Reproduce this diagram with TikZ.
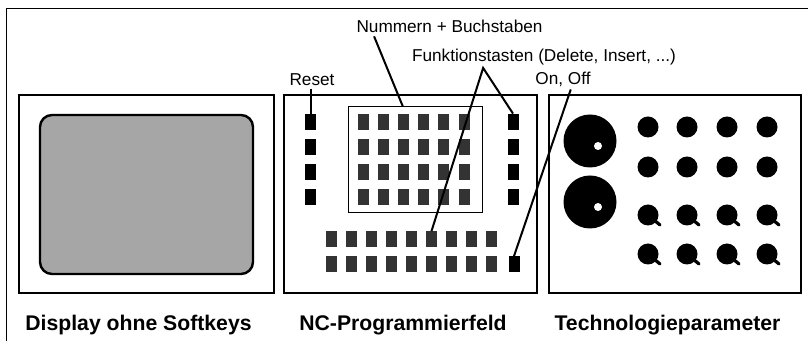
\documentclass[tikz,border=0pt]{standalone}
\usepackage{fontspec}
\setmainfont{Liberation Sans}
\usetikzlibrary{positioning, calc}

\begin{document}
\begin{tikzpicture}[x=0.5pt, y=-0.5pt,
    rahmen/.style={draw, line width=1pt, minimum height=99pt, inner sep=0pt},
    taste/.style={fill=black!80, minimum width=5.5pt, minimum height=8pt, inner sep=0pt},
    tasteS/.style={taste, fill=black},
    knopf/.style={circle, fill=black, minimum size=10.5pt, inner sep=0pt},
    beschr/.style={font=\fontsize{8.6}{10}\selectfont, inner sep=0pt, anchor=base},
    titel/.style={font=\fontsize{10.6}{13}\selectfont\bfseries, inner sep=0pt, anchor=base},
    zeiger/.style={line width=1pt}]
    \useasboundingbox (0,0) rectangle (808,341);

    % Außenrahmen
    \draw[line width=0.75pt] (6.5,341) -- (6.5,8.5) -- (808,8.5);

    % Display
    \node[rahmen, minimum width=127.5pt] (display) at (146.5,194) {};
    \node[draw, line width=1.2pt, rounded corners=6pt, fill=black!35,
        minimum width=106.5pt, minimum height=79.5pt] (schirm) at (146.5,194.5) {};

    % NC-Programmierfeld mit Tastenfeldern
    \node[rahmen, minimum width=126.5pt] (ncfeld) at (410.5,194) {};
    \node[draw, line width=0.5pt, minimum width=67pt, minimum height=53pt, inner sep=0pt]
        (nbfeld) at (415,160) {};
    \foreach \r [count=\i] in {122,147,172,197} {
        \foreach \c in {1,...,6}
            \node[taste] (nb-\i-\c) at ({342.8+20.2*\c},\r) {};
        \node[tasteS] (links-\i) at (310.5,\r) {};
        \node[tasteS] (rechts-\i) at (513,\r) {};
    }
    \foreach \r [count=\i] in {239.5,264.5}
        \foreach \c in {1,...,9}
            \node[taste] (fk-\i-\c) at ({310.9+20.1*\c},\r) {};
    \node[tasteS] (onoff) at (514,264.5) {};

    % Technologieparameter (Drehknöpfe und Tasten)
    \node[rahmen, minimum width=126pt] (techfeld) at (675,194) {};
    \foreach \r [count=\i] in {141,202} {
        \node[knopf, minimum size=26.5pt] (rad-\i) at (590,\r) {};
        \node[circle, fill=white, minimum size=4pt, inner sep=0pt] (loch-\i) at (598,{\r+5}) {};
    }
    \foreach \r [count=\i] in {127,167,215,254}
        \foreach \c [count=\j] in {648,687,727,767}
            \node[knopf] (kn-\i-\j) at (\c,\r) {};
    \foreach \i in {3,4}
        \foreach \j in {1,...,4}
            \draw[line width=1.6pt, line cap=round] (kn-\i-\j.center) -- ++(12,10);

    % Beschriftungen oben
    \node[beschr] (nbtext) at (449.5,33) {Nummern + Buchstaben};
    \node[beschr] (fkttext) at (544,62) {Funktionstasten (Delete, Insert, ...)};
    \node[beschr] (resettext) at (312,86) {Reset};
    \node[beschr] (ontext) at (563,85) {On, Off};
    \coordinate (fktpunkt) at ($(fkttext.south west)!0.27!(fkttext.south east)+(0,2)$);

    % Zeigerlinien
    \draw[zeiger, shorten <=1.5pt] ($(nbtext.south west)!0.09!(nbtext.south east)$)
        -- ($(nbfeld.north west)!0.41!(nbfeld.north east)$);
    \draw[zeiger] (fk-1-6.north) -- (fktpunkt) -- (rechts-1.north);
    \draw[zeiger, shorten <=1pt] (links-1.north |- resettext.south) -- (links-1.north);
    \draw[zeiger, shorten <=1pt] ($(ontext.south west)!0.65!(ontext.south east)$) -- (onoff.north);

    % Titel unten
    \node[titel] (displaytitel) at (138.5,331) {Display ohne Softkeys};
    \node[titel] (nctitel) at (403,331) {NC-Programmierfeld};
    \node[titel] (techtitel) at (667.5,331) {Technologieparameter};
\end{tikzpicture}
\end{document}
